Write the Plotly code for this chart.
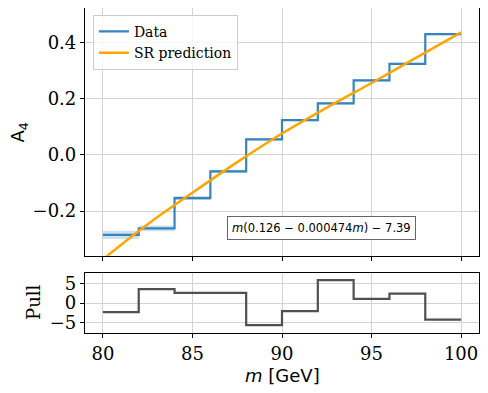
import plotly.graph_objects as go
from plotly.subplots import make_subplots

# bin edges in m [GeV] and measured A4 per bin
bin_edges = [80, 82, 84, 86, 88, 90, 92, 94, 96, 98, 100]
a4_data = [-0.285, -0.262, -0.154, -0.059, 0.055, 0.124, 0.183, 0.265, 0.324, 0.430]
a4_err = [0.015, 0.010, 0.007, 0.006, 0.004, 0.004, 0.004, 0.004, 0.004, 0.004]

# SR prediction curve
m_curve = [80, 82.5, 85, 87.5, 90, 92.5, 95, 97.5, 100]
a4_curve = [-0.372, -0.247, -0.135, -0.026, 0.076, 0.168, 0.256, 0.346, 0.436]

# pull per bin
pull = [-2.33, 3.62, 2.66, 2.66, -5.69, -2.07, 5.94, 1.11, 2.48, -4.24]

formula_text = "<i>m</i>(0.126 − 0.000474<i>m</i>) − 7.39"

SERIF = "DejaVu Serif"
SANS = "DejaVu Sans"
BLUE = "#3584c0"
ORANGE = "#ffa500"
GRID = "#d3d3d3"


def stairs(vals):
    return list(vals) + [vals[-1]]


fig = make_subplots(rows=2, cols=1, shared_xaxes=False, vertical_spacing=0.0)

# error band
lo = [v - e for v, e in zip(a4_data, a4_err)]
hi = [v + e for v, e in zip(a4_data, a4_err)]
fig.add_trace(go.Scatter(x=bin_edges, y=stairs(lo), mode="lines", line=dict(width=0, shape="hv"),
                         showlegend=False, hoverinfo="skip"), row=1, col=1)
fig.add_trace(go.Scatter(x=bin_edges, y=stairs(hi), mode="lines", line=dict(width=0, shape="hv"),
                         fill="tonexty", fillcolor="rgba(31,119,180,0.22)",
                         showlegend=False, hoverinfo="skip"), row=1, col=1)

fig.add_trace(go.Scatter(x=bin_edges, y=stairs(a4_data), mode="lines", name="Data",
                         line=dict(color=BLUE, width=2.2, shape="hv")), row=1, col=1)
fig.add_trace(go.Scatter(x=m_curve, y=a4_curve, mode="lines", name="SR prediction",
                         line=dict(color=ORANGE, width=2.5, shape="spline")), row=1, col=1)

fig.add_trace(go.Scatter(x=bin_edges, y=stairs(pull), mode="lines", showlegend=False,
                         line=dict(color="#505050", width=2.2, shape="hv")), row=2, col=1)

axis_common = dict(showline=True, linecolor="black", linewidth=1.2, mirror=True,
                   ticks="outside", ticklen=4, tickcolor="black", tickwidth=1,
                   showgrid=True, gridcolor=GRID, gridwidth=1, zeroline=False,
                   automargin=False,
                   tickfont=dict(family=SERIF, size=18, color="black"))

fig.update_xaxes(**axis_common, range=[79, 101], tickvals=[80, 85, 90, 95, 100])
fig.update_xaxes(showticklabels=False, row=1, col=1)

fig.update_yaxes(**axis_common)
fig.update_yaxes(range=[-0.359, 0.523], tickvals=[-0.2, 0.0, 0.2, 0.4], tickformat=".1f",
                 domain=[0.238, 1.0], row=1, col=1)
fig.update_yaxes(range=[-7.7, 7.9], tickvals=[-5, 0, 5], domain=[0.0, 0.186], row=2, col=1)

# axis titles as paper annotations
fig.add_annotation(x=-0.168, y=0.616, xref="paper", yref="paper", text="A<sub>4</sub>",
                   showarrow=False, textangle=-90, font=dict(family=SANS, size=18, color="black"),
                   xanchor="center", yanchor="middle")
fig.add_annotation(x=-0.129, y=0.093, xref="paper", yref="paper", text="Pull",
                   showarrow=False, textangle=-90, font=dict(family=SERIF, size=18, color="black"),
                   xanchor="center", yanchor="middle")
fig.add_annotation(x=0.5, y=-0.13, xref="paper", yref="paper",
                   text="<i>m</i> [GeV]",
                   showarrow=False, font=dict(family=SANS, size=18, color="black"),
                   xanchor="center", yanchor="middle")

fig.add_annotation(x=0.6015, y=0.324, xref="paper", yref="paper", text=formula_text,
                   showarrow=False, font=dict(family=SANS, size=11.5, color="black"),
                   bgcolor="white", bordercolor="#666666", borderwidth=1, borderpad=4,
                   xanchor="center", yanchor="middle")

# page body has an 8px margin, so the figure is 8px smaller and shifted
fig.update_layout(
    width=480, height=385,
    margin=dict(l=77, r=9, t=0, b=60),
    paper_bgcolor="white", plot_bgcolor="white",
    legend=dict(x=0.02, y=0.979, xanchor="left", yanchor="top", traceorder="normal",
                bgcolor="rgba(255,255,255,0.8)", bordercolor="#cccccc", borderwidth=1,
                font=dict(family=SERIF, size=14, color="black"), tracegroupgap=0,
                itemwidth=30),
)

fig.write_html("out.html")
